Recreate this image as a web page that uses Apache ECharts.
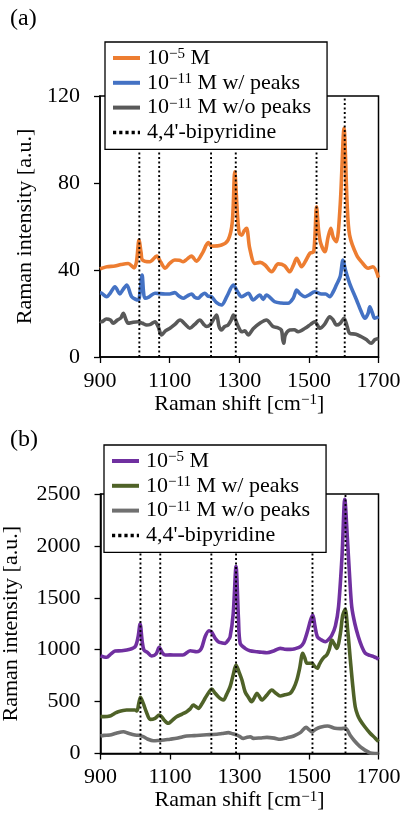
<!DOCTYPE html>
<html><head><meta charset="utf-8">
<script src="https://cdn.jsdelivr.net/npm/echarts@6/dist/echarts.min.js"></script>
<style>html,body{margin:0;padding:0;background:#fff}#c{width:407px;height:827px}</style>
</head><body><div id="c"></div>
<script>
// ---------- DATA ----------
const seriesNames = ['10^−5 M', '10^−11 M w/ peaks', '10^−11 M w/o peaks', "4,4'-bipyridine"];
const xTicksA = [900, 1100, 1300, 1500, 1700];
const yTicksA = [0, 40, 80, 120];
const yTicksB = [0, 500, 1000, 1500, 2000, 2500];

const topHigh = [[900,40.5],[905,40.8],[920,41.5],[943,41.8],[960,42.5],[981,43],[998,41],[1005,44],[1012,53.8],[1018,48],[1022,44.6],[1043,43.8],[1063,46.4],[1075,43.5],[1087,40.8],[1100,43],[1115,44.6],[1128,44.5],[1139,43.8],[1150,45],[1163,46.4],[1177,44],[1195,48],[1211,52.6],[1220,51],[1249,51.5],[1268,53.8],[1280,62],[1287,85.2],[1295,65],[1300,57],[1307,56],[1314,58],[1321,59.2],[1330,50],[1345,43],[1360,43.5],[1374,42.3],[1393,39.2],[1412,42.8],[1430,42],[1445,39.2],[1455,42],[1465,45.4],[1479,41.5],[1490,44],[1503,47.7],[1514,48.4],[1522,69.1],[1528,58],[1534,52.3],[1546,48.4],[1555,55],[1563,59.2],[1570,55],[1579,53],[1590,70],[1601,105.1],[1610,70],[1617,56],[1637,46.9],[1655,43],[1670,40.8],[1684,41.5],[1700,36.5]];
const topLowPeaks = [[900,29.5],[905,29.3],[919,27.7],[930,29.5],[943,32.3],[957,29],[966,31],[977,33.1],[991,27.7],[1010,26.2],[1015,30],[1021,37.7],[1025,30],[1029,27],[1040,27.5],[1058,29.3],[1087,29],[1100,29],[1115,29.6],[1127,28],[1139,27],[1150,28],[1163,29],[1172,27.5],[1182,27],[1192,28.5],[1201,29.3],[1210,28],[1220,27.7],[1235,25],[1249,23.9],[1265,28],[1283,33.1],[1295,30],[1307,27.7],[1326,29.3],[1340,26.2],[1359,28.5],[1369,26.5],[1378,28.5],[1402,25.4],[1420,24.8],[1440,24.7],[1455,27],[1465,30.8],[1475,29],[1489,27.7],[1500,28.5],[1517,30],[1536,29],[1548,29],[1560,27.7],[1570,30],[1579,33.1],[1590,37],[1598,44.6],[1605,40],[1617,33.9],[1637,26.2],[1650,21],[1661,17.8],[1670,20],[1675,23.1],[1683,20],[1689,17.8],[1700,18.5]];
const topLowNoPeaks = [[900,16.5],[905,16.2],[918,17.5],[930,17],[938,15.5],[950,17],[960,18],[967,20.1],[975,17],[981,15.5],[995,16],[1010,16.2],[1022,15.5],[1034,14.7],[1045,15],[1058,16.2],[1067,14],[1077,10.1],[1088,12],[1101,13.2],[1115,15],[1130,17],[1145,15],[1158,13.2],[1172,15],[1187,17],[1198,15],[1206,14],[1216,14.7],[1225,17],[1235,19.3],[1242,14],[1249,12.4],[1258,14],[1268,14.7],[1277,17],[1283,19.3],[1292,16],[1300,13],[1307,11.6],[1316,12],[1326,10.1],[1340,13],[1359,15.5],[1378,17],[1397,14],[1410,13.5],[1421,12.4],[1425,8],[1428,6.3],[1432,10],[1445,12.4],[1458,12.5],[1469,11.6],[1489,13.2],[1505,15],[1517,16.2],[1532,13.2],[1545,15],[1560,18.5],[1570,17],[1579,14.7],[1590,15.5],[1601,17.8],[1610,14],[1617,10.9],[1635,10.5],[1651,9.3],[1665,8],[1679,6.3],[1690,8],[1700,8.5]];
const topRefPeaks = [1013, 1070, 1219, 1290, 1522, 1603];

const botHigh = [[900,939],[910,930],[918,927],[930,960],[942,987],[960,990],[985,1004],[1000,1030],[1008,1120],[1014,1248],[1020,1080],[1025,997],[1035,975],[1047,939],[1060,960],[1069,1023],[1078,970],[1086,949],[1100,950],[1119,949],[1137,949],[1158,990],[1177,980],[1190,1010],[1201,1125],[1212,1183],[1220,1170],[1230,1110],[1239,1077],[1250,1065],[1259,1061],[1267,1090],[1273,1125],[1282,1350],[1290,1800],[1297,1300],[1302,1061],[1316,1013],[1330,990],[1350,981],[1365,975],[1379,971],[1400,990],[1417,1013],[1430,1005],[1446,1003],[1460,1010],[1475,1029],[1485,1070],[1494,1158],[1505,1290],[1511,1334],[1517,1230],[1524,1125],[1535,1095],[1547,1077],[1557,1100],[1566,1142],[1576,1230],[1585,1414],[1595,1900],[1603,2450],[1610,2100],[1617,1700],[1623,1414],[1632,1250],[1642,1125],[1652,1030],[1662,965],[1675,945],[1686,933],[1695,920],[1700,905]];
const botLowPeaks = [[900,355],[910,355],[927,361],[940,385],[951,403],[975,419],[999,419],[1005,410],[1010,480],[1015,541],[1023,483],[1032,400],[1043,329],[1057,339],[1069,371],[1076,355],[1083,323],[1095,291],[1105,315],[1119,355],[1135,380],[1148,403],[1158,430],[1167,467],[1175,450],[1182,435],[1192,480],[1201,532],[1212,590],[1220,621],[1230,580],[1239,547],[1247,525],[1254,515],[1263,570],[1273,644],[1282,760],[1290,853],[1298,790],[1307,708],[1316,595],[1326,540],[1335,499],[1343,540],[1350,580],[1357,550],[1364,515],[1378,560],[1393,612],[1405,580],[1417,554],[1430,565],[1446,580],[1456,630],[1465,708],[1473,820],[1482,965],[1488,920],[1494,869],[1502,870],[1509,869],[1516,840],[1524,821],[1530,860],[1537,901],[1544,930],[1551,949],[1558,1000],[1566,1093],[1572,1060],[1580,1013],[1590,1150],[1597,1330],[1604,1389],[1611,1200],[1619,901],[1626,650],[1633,451],[1640,370],[1647,323],[1660,260],[1676,195],[1690,150],[1700,114]];
const botLowNoPeaks = [[900,169],[910,175],[927,178],[945,195],[966,210],[980,195],[999,178],[1010,175],[1023,162],[1035,140],[1052,123],[1065,125],[1083,130],[1100,138],[1119,146],[1135,160],[1148,169],[1170,172],[1196,178],[1215,182],[1235,185],[1250,192],[1268,201],[1280,190],[1292,178],[1300,165],[1311,146],[1320,155],[1331,162],[1340,146],[1360,150],[1379,155],[1400,148],[1417,137],[1435,150],[1456,169],[1475,201],[1492,252],[1500,230],[1509,210],[1520,235],[1532,252],[1553,265],[1575,243],[1590,240],[1605,243],[1618,178],[1630,125],[1647,66],[1660,35],[1676,5],[1690,0],[1700,0]];
const botRefPeaks = [1015, 1072, 1219, 1290, 1510, 1605];

// ---------- STYLE ----------
const FONT = 'Liberation Serif';
const FS = 22;
const colorsA = ['#ED7D31', '#4472C4', '#595959'];
const colorsB = ['#7030A0', '#4F6228', '#707070'];

function refLines(xs, ymax) {
  const d = [];
  xs.forEach(x => { d.push([x, 0]); d.push([x, ymax]); d.push([x, null]); });
  return d;
}
const richText = {
  sup: { fontSize: 15, fontFamily: FONT, color: '#000', verticalAlign: 'top', lineHeight: 14 }
};
function legendFor(idx, top, left) {
  const p = idx === 0 ? 'a' : 'b';
  return {
    data: seriesNames.map((n, i) => i === 3
      ? { name: p + i, lineStyle: { width: 3.5, type: [3.2, 3] } }
      : { name: p + i, lineStyle: { width: 4 } }),
    orient: 'vertical', left: left, top: top,
    backgroundColor: '#fff', borderColor: '#000', borderWidth: 1.3,
    padding: [5, 16, 6, 6], itemGap: 2.8, itemWidth: 27, itemHeight: 14,
    itemStyle: { opacity: 0 },
    formatter: n => seriesNames[+n.slice(1)].replace(/\^(\S+)/, '{sup|$1}'),
    textStyle: { fontFamily: FONT, fontSize: FS, color: '#000', lineHeight: 22, padding: [0, 0, 0, 2], rich: richText },
    z: 10
  };
}
function xAxisFor(g) {
  return {
    gridIndex: g, type: 'value', min: 900, max: 1700, interval: 200,
    name: 'Raman shift [cm{sup|−1}]', nameLocation: 'middle', nameGap: 36,
    nameTextStyle: { fontFamily: FONT, fontSize: FS, color: '#000', rich: richText },
    axisLine: { lineStyle: { color: '#000', width: 1.5 } },
    axisTick: { length: 6, lineStyle: { color: '#000', width: 1.3 } },
    axisLabel: { fontFamily: FONT, fontSize: FS, color: '#000', margin: 13, formatter: v => String(v) },
    splitLine: { show: false }
  };
}
function yAxisFor(g, max, interval) {
  return {
    gridIndex: g, type: 'value', min: 0, max: max, interval: interval,
    name: 'Raman intensity [a.u.]', nameLocation: 'middle', nameGap: g === 0 ? 63 : 78,
    nameTextStyle: { fontFamily: FONT, fontSize: FS, color: '#000' },
    axisLine: { show: true, lineStyle: { color: '#000', width: 1.5 } },
    axisTick: { show: true, length: 6, lineStyle: { color: '#000', width: 1.3 } },
    axisLabel: { fontFamily: FONT, fontSize: FS, color: '#000', margin: 20, formatter: v => String(v) },
    splitLine: { show: false }
  };
}
function lineSeries(name, data, color, g) {
  return {
    name: name, type: 'line', xAxisIndex: g, yAxisIndex: g, data: data,
    showSymbol: false, symbol: 'none', smooth: 0.3,
    lineStyle: { color: color, width: 3.6 }, itemStyle: { color: color }
  };
}
function refSeries(name, xs, ymax, g) {
  return {
    name: name, type: 'line', xAxisIndex: g, yAxisIndex: g, data: refLines(xs, ymax),
    showSymbol: false, symbol: 'none', connectNulls: false,
    lineStyle: { color: '#000', width: 1.9, type: [1.9, 2.6] }, itemStyle: { color: '#000' }, z: 3
  };
}

const option = {
  animation: false,
  backgroundColor: '#fff',
  title: [
    { text: '(a)', left: 10, top: 7, padding: 0, textStyle: { fontFamily: FONT, fontSize: 24, fontWeight: 'normal', color: '#000' } },
    { text: '(b)', left: 10, top: 428, padding: 0, textStyle: { fontFamily: FONT, fontSize: 24, fontWeight: 'normal', color: '#000' } }
  ],
  grid: [
    { left: 100, width: 278.5, top: 96, height: 261, show: true, borderColor: '#000', borderWidth: 1.5, backgroundColor: 'transparent', containLabel: false, outerBoundsMode: 'none' },
    { left: 100.5, width: 278, top: 494, height: 259.5, show: true, borderColor: '#000', borderWidth: 1.5, backgroundColor: 'transparent', containLabel: false, outerBoundsMode: 'none' }
  ],
  legend: [legendFor(0, 42, 105), legendFor(1, 445, 104)],
  xAxis: [xAxisFor(0), xAxisFor(1)],
  yAxis: [yAxisFor(0, 120, 40), yAxisFor(1, 2500, 500)],
  series: [
    lineSeries('a0', topHigh, colorsA[0], 0),
    lineSeries('a1', topLowPeaks, colorsA[1], 0),
    lineSeries('a2', topLowNoPeaks, colorsA[2], 0),
    refSeries('a3', topRefPeaks, 120, 0),
    lineSeries('b0', botHigh, colorsB[0], 1),
    lineSeries('b1', botLowPeaks, colorsB[1], 1),
    lineSeries('b2', botLowNoPeaks, colorsB[2], 1),
    refSeries('b3', botRefPeaks, 2500, 1)
  ]
};
const chart = echarts.init(document.getElementById('c'), null, { renderer: 'canvas' });
chart.setOption(option);
</script></body></html>
